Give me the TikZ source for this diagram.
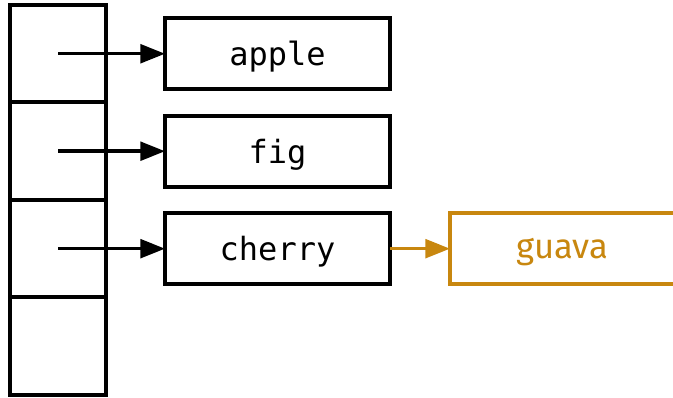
\documentclass[tikz,border=0pt]{standalone}
\usepackage{fontspec}
\setmonofont{DejaVu Sans Mono}
\newfontfamily\labelsans{Fira Sans}
\usepackage{tikz}
\usetikzlibrary{arrows.meta, positioning}

\definecolor{ochre}{RGB}{200,135,15}

\begin{document}
\begin{tikzpicture}[
  x=0.75pt, y=-0.75pt,
  slot/.style={rectangle, draw, line width=3pt, outer sep=0pt, inner sep=0pt,
               minimum width=72pt, minimum height=73.1pt},
  entry/.style={rectangle, draw, line width=3pt, outer sep=0pt,
                minimum width=168.75pt, minimum height=53.25pt, text depth=0pt,
                font=\ttfamily\fontsize{24}{28}\selectfont},
  ptr/.style={-{Triangle[length=18.5pt, width=14pt]}, line width=2.6pt},
]
\useasboundingbox (0,0) rectangle (673,398);

% bucket array
\node[slot] (s1) at (58,53.75) {};
\node[slot, below=0pt of s1] (s2) {};
\node[slot, below=0pt of s2] (s3) {};
\node[slot, below=0pt of s3] (s4) {};

% chained entries
\node[entry, right=44.25pt of s1] (apple)  {apple};
\node[entry, right=44.25pt of s2] (fig)    {fig};
\node[entry, right=44.25pt of s3] (cherry) {cherry};
\node[entry, draw=ochre, text=ochre, font=\labelsans\fontsize{26}{30}\selectfont,
      right=45pt of cherry] (guava) {guava};

\draw[ptr] (s1.center) -- (apple);
\draw[ptr] (s2.center) -- (fig);
\draw[ptr] (s3.center) -- (cherry);
\draw[ptr, draw=ochre, fill=ochre] (cherry) -- (guava);
\end{tikzpicture}
\end{document}
